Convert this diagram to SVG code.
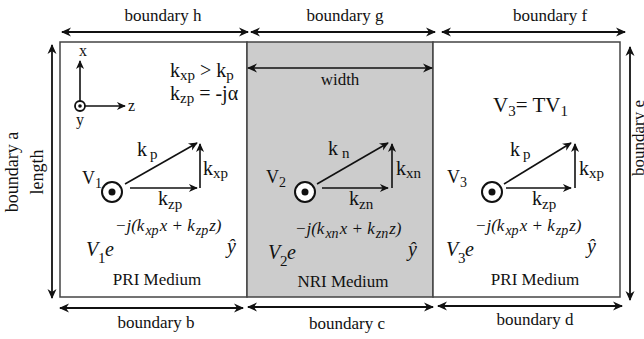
<svg xmlns="http://www.w3.org/2000/svg" width="644" height="339" viewBox="0 0 644 339">
<style>
text{font-family:"Liberation Serif","Times New Roman",serif;fill:#111}
.lab{font-size:17px;text-anchor:middle}
.k{font-size:20px}
.v{font-size:18px}
.sub{font-size:15px}
.vsub{font-size:14px}
.it{font-style:italic}
.exp{font-size:17px;font-style:italic}
.esub{font-size:14px}
.panel{stroke:#444;stroke-width:1.5}
.bnd{stroke:#111;stroke-width:1.8;fill:none;marker-start:url(#hb);marker-end:url(#hb)}
.vec{stroke:#111;stroke-width:1.6;fill:none;marker-end:url(#ha)}
.ring{fill:#fff;stroke:#111;stroke-width:2}
</style>
<defs>
<marker id="hb" viewBox="0 0 10 10" refX="9" refY="5" markerWidth="10" markerHeight="10" markerUnits="userSpaceOnUse" orient="auto-start-reverse"><path d="M0,0.5 L10,5 L0,9.5 L3,5 Z" fill="#111"/></marker>
<marker id="ha" viewBox="0 0 10 10" refX="9" refY="5" markerWidth="10" markerHeight="9" markerUnits="userSpaceOnUse" orient="auto"><path d="M0,0.5 L10,5 L0,9.5 L3,5 Z" fill="#111"/></marker>
</defs>

<g id="panel-pri-left">
<rect class="panel" x="60" y="42" width="187" height="255" fill="#fff"/>
<g id="axes">
<line class="vec" x1="80" y1="101" x2="80" y2="61"/>
<line class="vec" x1="85" y1="106" x2="125" y2="106"/>
<circle cx="80" cy="106" r="5" fill="#fff" stroke="#111" stroke-width="1.8"/>
<circle cx="80" cy="106" r="1.8" fill="#111"/>
<text x="83" y="56" font-size="16" text-anchor="middle">x</text>
<text x="128" y="111" font-size="16">z</text>
<text x="80" y="125" font-size="16" text-anchor="middle">y</text>
</g>
<text class="k" x="170" y="77">k<tspan class="sub" dy="3">xp</tspan><tspan dy="-3"> &gt; k</tspan><tspan class="sub" dy="3">p</tspan></text>
<text class="k" x="170" y="100">k<tspan class="sub" dy="3">zp</tspan><tspan dy="-3"> = -jα</tspan></text>
<text class="v" x="82" y="184">V<tspan class="vsub" dy="4">1</tspan></text>
<circle class="ring" cx="112" cy="192" r="10"/>
<circle cx="112" cy="192" r="3.5" fill="#111"/>
<line class="vec" x1="125" y1="184" x2="197" y2="143"/>
<line class="vec" x1="130" y1="188" x2="197" y2="188"/>
<line class="vec" x1="200" y1="188" x2="200" y2="144"/>
<text class="k" x="137" y="156">k<tspan class="sub" x="150" dy="3">p</tspan></text>
<text class="k" x="203" y="175">k<tspan class="sub" dy="3">xp</tspan></text>
<text class="k" x="158" y="205">k<tspan class="sub" dy="4">zp</tspan></text>
<g id="formula-1">
<text class="k it" x="86" y="256">V<tspan class="sub" style="font-style:normal" x="98" dy="7">1</tspan></text>
<text class="k it" x="105" y="256">e</text>
<text class="exp" x="115" y="231">−j(k<tspan class="esub" dx="1" dy="4">xp</tspan><tspan dx="1" dy="-4">x + k</tspan><tspan class="esub" dx="1" dy="4">zp</tspan><tspan dx="1" dy="-4">z)</tspan></text>
<text class="k it" x="227" y="253">ŷ</text>
</g>
<text class="lab" x="157" y="285">PRI Medium</text>
</g>

<g id="panel-nri">
<rect class="panel" x="247" y="42" width="186" height="255" fill="#cccccc"/>
<text class="lab" x="340" y="85">width</text>
<text class="v" x="266" y="183">V<tspan class="vsub" dy="4">2</tspan></text>
<circle class="ring" cx="305" cy="192" r="10"/>
<circle cx="305" cy="192" r="3.5" fill="#111"/>
<line class="vec" x1="317" y1="184" x2="388" y2="143"/>
<line class="vec" x1="322" y1="188" x2="388" y2="188"/>
<line class="vec" x1="392" y1="188" x2="392" y2="144"/>
<text class="k" x="328" y="155">k<tspan class="sub" x="342" dy="3">n</tspan></text>
<text class="k" x="396" y="175">k<tspan class="sub" dy="3">xn</tspan></text>
<text class="k" x="349" y="205">k<tspan class="sub" dy="4">zn</tspan></text>
<g id="formula-2" transform="translate(182,3)">
<text class="k it" x="86" y="256">V<tspan class="sub" style="font-style:normal" x="98" dy="7">2</tspan></text>
<text class="k it" x="105" y="256">e</text>
<text class="exp" x="113" y="231">−j(k<tspan class="esub" dx="1" dy="4">xn</tspan><tspan dx="1" dy="-4">x + k</tspan><tspan class="esub" dx="1" dy="4">zn</tspan><tspan dx="1" dy="-4">z)</tspan></text>
<text class="k it" x="226" y="253">ŷ</text>
</g>
<text class="lab" x="343" y="287">NRI Medium</text>
</g>

<g id="panel-pri-right">
<rect class="panel" x="433" y="42" width="187" height="255" fill="#fff"/>
<text class="k" x="493" y="112" style="font-size:21px">V<tspan class="sub" dy="4">3</tspan><tspan dy="-4">= TV</tspan><tspan class="sub" dy="4">1</tspan></text>
<text class="v" x="447" y="183">V<tspan class="vsub" dy="4">3</tspan></text>
<circle class="ring" cx="492" cy="192" r="10"/>
<circle cx="492" cy="192" r="3.5" fill="#111"/>
<line class="vec" x1="504" y1="184" x2="571" y2="143"/>
<line class="vec" x1="506" y1="188" x2="571" y2="188"/>
<line class="vec" x1="575" y1="188" x2="575" y2="144"/>
<text class="k" x="510" y="156">k<tspan class="sub" x="523" dy="3">p</tspan></text>
<text class="k" x="579" y="175">k<tspan class="sub" dy="3">xp</tspan></text>
<text class="k" x="532" y="205">k<tspan class="sub" dy="4">zp</tspan></text>
<g id="formula-3" transform="translate(360,0)">
<text class="k it" x="86" y="256">V<tspan class="sub" style="font-style:normal" x="98" dy="7">3</tspan></text>
<text class="k it" x="105" y="256">e</text>
<text class="exp" x="115" y="231">−j(k<tspan class="esub" dx="1" dy="4">xp</tspan><tspan dx="1" dy="-4">x + k</tspan><tspan class="esub" dx="1" dy="4">zp</tspan><tspan dx="1" dy="-4">z)</tspan></text>
<text class="k it" x="227" y="253">ŷ</text>
</g>
<text class="lab" x="535" y="285">PRI Medium</text>
</g>

<g id="connectors">
<line class="bnd" x1="62" y1="32" x2="248" y2="32"/>
<line class="bnd" x1="251" y1="32" x2="435" y2="32"/>
<line class="bnd" x1="442" y1="32" x2="625" y2="32"/>
<line class="bnd" x1="60" y1="308" x2="243" y2="308"/>
<line class="bnd" x1="248" y1="307" x2="433" y2="307"/>
<line class="bnd" x1="438" y1="306" x2="622" y2="306"/>
<line class="bnd" x1="52" y1="45" x2="52" y2="298"/>
<line class="bnd" x1="630" y1="47" x2="630" y2="300"/>
<line class="bnd" x1="248" y1="68" x2="432" y2="68" style="stroke-width:1.4"/>
</g>

<g id="boundary-labels">
<text class="lab" x="163" y="21">boundary h</text>
<text class="lab" x="345" y="21">boundary g</text>
<text class="lab" x="550" y="21">boundary f</text>
<text class="lab" x="156" y="328">boundary b</text>
<text class="lab" x="347" y="329">boundary c</text>
<text class="lab" x="535" y="325">boundary d</text>
<text class="lab" transform="translate(18,172) rotate(-90)" style="font-size:18px">boundary a</text>
<text class="lab" transform="translate(43,172) rotate(-90)" style="font-size:18px">length</text>
<text class="lab" transform="translate(644,138) rotate(-90)" style="font-size:17px">boundary e</text>
</g>
</svg>
